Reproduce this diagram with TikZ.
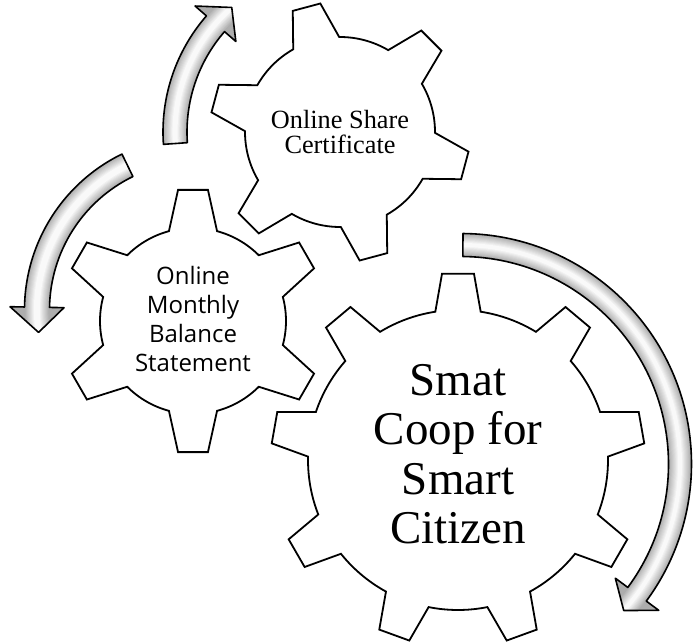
\documentclass[tikz,border=0pt]{standalone}
\usepackage{fontspec}
\setmainfont{Liberation Serif}
\newfontfamily\statementfont{Open Sans}
\tikzset{
  gear/.style={draw=black, fill=white, line width=1.8pt, line join=miter},
  arrow-line/.style={draw=black, line width=1.6pt, line join=round},
}
\begin{document}
\begin{tikzpicture}[x=1pt,y=1pt]
\useasboundingbox (0,0) rectangle (694,641);
% Gear centres
\coordinate (share-gear) at (340,509);
\coordinate (balance-gear) at (193,320);
\coordinate (coop-gear) at (458,181);
% Bent arrows round the gears
\foreach \cx/\cy/\rr/\aa/\ab/\ac/\w in {340/509/165/184/139/131/12, 198/331/161/116/179/188/12.5, 461/177/219/89.5/-36.5/-42/11.5} {
  \begin{scope}[shift={(\cx,\cy)}]
    \path[save path=\bentpath] ({\aa}:{\rr pt+\w pt}) arc[start angle=\aa, end angle=\ab, radius=\rr pt+\w pt]
      -- ({\ab}:{\rr pt+27pt}) -- ({\ac}:{\rr pt}) -- ({\ab}:{\rr pt-27pt}) -- ({\ab}:{\rr pt-\w pt})
      arc[start angle=\ab, end angle=\aa, radius=\rr pt-\w pt] -- cycle;
    \begin{scope}
      \clip[use path=\bentpath];
      \fill[gray!64] (0,0) circle[radius=\rr pt+40pt];
      \foreach \k [evaluate=\k as \lw using 2*\w-2.1*\k, evaluate=\k as \sh using int(64-6.5*\k)] in {0,...,9}
        \draw[line width=\lw pt, gray!\sh] ({\aa}:{\rr pt}) arc[start angle=\aa, end angle=\ac, radius=\rr pt];
    \end{scope}
    \draw[arrow-line, use path=\bentpath];
  \end{scope}
}
% Share gear, 6 teeth
\draw[gear, shift={(share-gear)}] (90.5:95pt) \foreach \a in {105,165,...,405} {
  -- ({\a-6.3}:130pt) -- ({\a+6.3}:130pt) -- ({\a+14.5}:95pt)
  arc[start angle=\a+14.5, end angle=\a+45.5, radius=95pt]} -- cycle;
% Balance gear, 6 teeth
\draw[gear, shift={(balance-gear)}] (75:93pt) \foreach \a in {90,150,...,390} {
  -- ({\a-6.5}:132pt) -- ({\a+6.5}:132pt) -- ({\a+15}:93pt)
  arc[start angle=\a+15, end angle=\a+45, radius=93pt]} -- cycle;
% Coop gear, 9 teeth
\draw[gear, shift={(coop-gear)}] (81.3:150pt) \foreach \a in {90,130,...,410} {
  -- ({\a-4.9}:187pt) -- ({\a+4.9}:187pt) -- ({\a+8.7}:150pt)
  arc[start angle=\a+8.7, end angle=\a+31.3, radius=150pt]} -- cycle;
% Labels
\node[font=\fontsize{26.3}{25.7}\selectfont, align=center] (share-label) at (share-gear) {Online Share\\Certificate};
\node[font=\statementfont\fontsize{24}{29.2}\selectfont, align=center] (balance-label) at (193,322) {Online\\Monthly\\Balance\\Statement};
\node[font=\fontsize{47}{49.5}\selectfont, align=center] (coop-label) at (458,187) {Smat\\Coop for\\Smart\\Citizen};
\end{tikzpicture}
\end{document}
